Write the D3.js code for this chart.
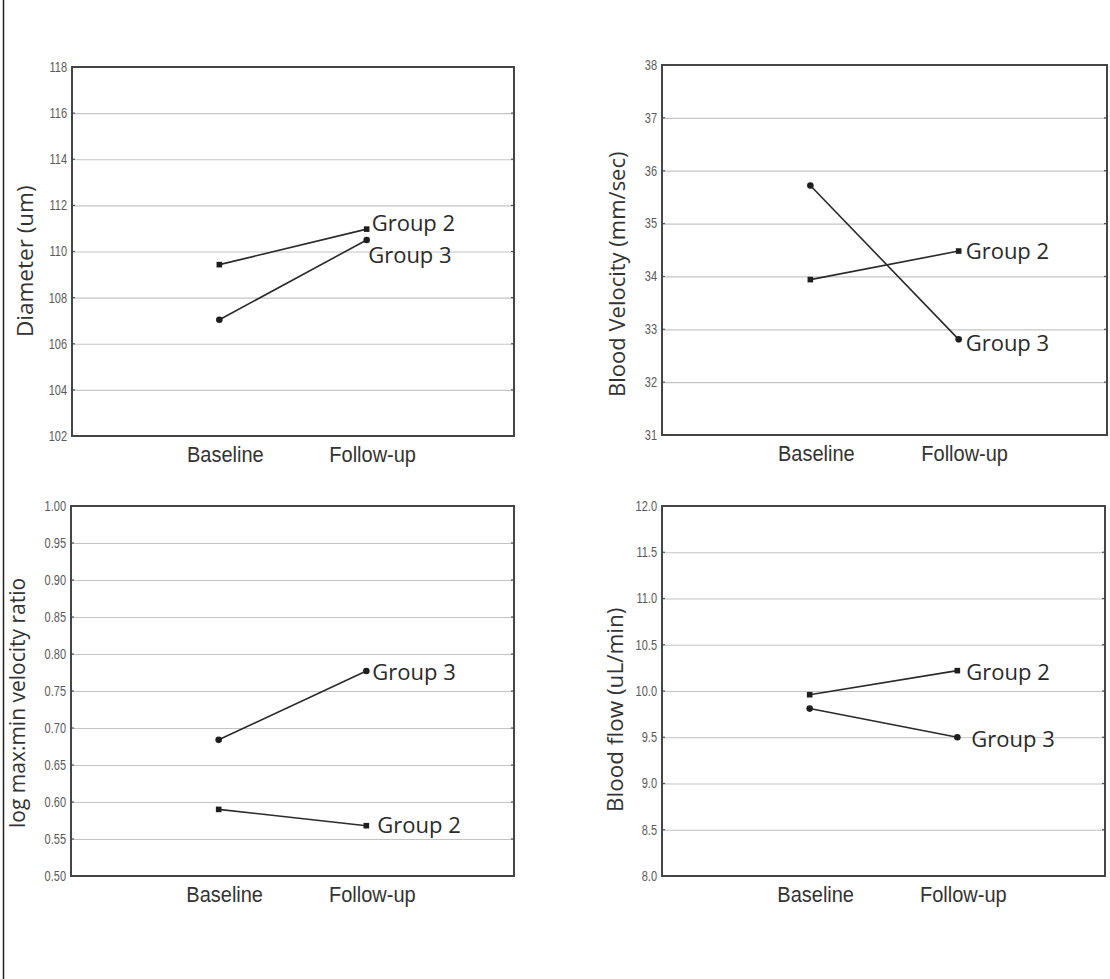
<!DOCTYPE html>
<html>
<head>
<meta charset="utf-8">
<script src="https://cdn.jsdelivr.net/npm/d3@7"></script>
<style>
  html, body { margin: 0; padding: 0; background: #fff; }
  svg { display: block; }
</style>
</head>
<body>
<svg id="chart" width="1110" height="979"></svg>
<script>
// ---------------- DATA ----------------
const categories = ["Baseline", "Follow-up"];
const groups = ["Group 2", "Group 3"];

const diameterG2 = [109.43, 110.97];
const diameterG3 = [107.04, 110.50];
const diameterTicks = [102, 104, 106, 108, 110, 112, 114, 116, 118];

const velocityG2 = [33.94, 34.48];
const velocityG3 = [35.72, 32.81];
const velocityTicks = [31, 32, 33, 34, 35, 36, 37, 38];

const ratioG2 = [0.590, 0.568];
const ratioG3 = [0.684, 0.777];
const ratioTicks = [0.50, 0.55, 0.60, 0.65, 0.70, 0.75, 0.80, 0.85, 0.90, 0.95, 1.00];

const flowG2 = [9.96, 10.22];
const flowG3 = [9.81, 9.50];
const flowTicks = [8.0, 8.5, 9.0, 9.5, 10.0, 10.5, 11.0, 11.5, 12.0];

const yTitles = ["Diameter (um)", "Blood Velocity (mm/sec)", "log max:min velocity ratio", "Blood flow (uL/min)"];

// ---------------- LAYOUT (positions / styles only) ----------------
const panels = [
  { series: [diameterG2, diameterG3], ticks: diameterTicks, fmt: d3.format("d"), title: yTitles[0],
    box: {x: 72, y: 67, w: 442, h: 369}, titlePos: {x: 33, y: 337, fs: 22.5},
    labelOff: [[5, -6], [1.5, 15]] },
  { series: [velocityG2, velocityG3], ticks: velocityTicks, fmt: d3.format("d"), title: yTitles[1],
    box: {x: 662, y: 65, w: 445, h: 370}, titlePos: {x: 625, y: 397, fs: 22},
    labelOff: [[7, 0], [7, 4]] },
  { series: [ratioG2, ratioG3], ticks: ratioTicks, fmt: d3.format(".2f"), title: yTitles[2],
    box: {x: 71, y: 506, w: 443, h: 370}, titlePos: {x: 25, y: 828, fs: 21},
    labelOff: [[11, -1], [6, 1]] },
  { series: [flowG2, flowG3], ticks: flowTicks, fmt: d3.format(".1f"), title: yTitles[3],
    box: {x: 662, y: 506, w: 443, h: 370}, titlePos: {x: 623, y: 812, fs: 22.5},
    labelOff: [[9, 1], [14, 2]] }
];

const svg = d3.select("#chart");

// left vertical rule
svg.append("line")
  .attr("x1", 3.5).attr("x2", 3.5).attr("y1", 0).attr("y2", 979)
  .attr("stroke", "#222").attr("stroke-width", 1.5);

panels.forEach(p => {
  const b = p.box;
  const g = svg.append("g").attr("transform", `translate(${b.x},${b.y})`);

  const x = d3.scalePoint().domain(categories).range([0, b.w]).padding(1);
  const y = d3.scaleLinear().domain(d3.extent(p.ticks)).range([b.h, 0]);

  // gridlines + tick labels via d3 axis
  const ax = g.append("g")
    .call(d3.axisLeft(y).tickValues(p.ticks).tickFormat(p.fmt).tickSize(-b.w).tickPadding(5));
  ax.select(".domain").remove();
  ax.selectAll(".tick line").attr("stroke", "#c4c4c4").attr("stroke-width", 1.2);
  ax.selectAll(".tick text")
    .attr("font-family", "'Liberation Sans', Arial, sans-serif")
    .attr("font-size", 11)
    .attr("fill", "#5a5a5a")
    .attr("transform", "scale(1,1.25)");

  // small tick stubs on both sides
  const stubs = g.append("g");
  p.ticks.forEach(t => {
    stubs.append("line").attr("x1", 0).attr("x2", 3).attr("y1", y(t)).attr("y2", y(t))
      .attr("stroke", "#555").attr("stroke-width", 1.2);
    stubs.append("line").attr("x1", b.w - 3).attr("x2", b.w).attr("y1", y(t)).attr("y2", y(t))
      .attr("stroke", "#555").attr("stroke-width", 1.2);
  });

  // frame
  g.append("rect").attr("x", 0).attr("y", 0).attr("width", b.w).attr("height", b.h)
    .attr("fill", "none").attr("stroke", "#454545").attr("stroke-width", 2);

  // x category labels
  const xl = g.append("g").attr("transform", `translate(0,${b.h + 26})`);
  categories.forEach(c => {
    const cx = x(c) + 6;
    xl.append("text")
      .attr("x", cx).attr("y", 0)
      .attr("text-anchor", "middle")
      .attr("font-family", "'Liberation Sans', Arial, sans-serif")
      .attr("font-size", 20)
      .attr("fill", "#333")
      .attr("transform", `translate(${cx},0) scale(1,1.12) translate(${-cx},0)`)
      .text(c);
  });

  // y title
  svg.append("text")
    .attr("transform", `translate(${p.titlePos.x},${p.titlePos.y}) rotate(-90)`)
    .attr("text-anchor", "start")
    .attr("font-family", "'Open Sans', 'Noto Sans', sans-serif")
    .attr("font-size", p.titlePos.fs)
    .attr("fill", "#333")
    .text(p.title);

  // series
  const line = d3.line().x((d, i) => x(categories[i])).y(d => y(d));
  p.series.forEach((vals, si) => {
    g.append("path").datum(vals)
      .attr("d", line)
      .attr("fill", "none")
      .attr("stroke", "#2a2a2a")
      .attr("stroke-width", 1.6);

    vals.forEach((v, i) => {
      const cx = x(categories[i]), cy = y(v);
      if (si === 0) {
        g.append("rect").attr("x", cx - 2.8).attr("y", cy - 2.8).attr("width", 5.6).attr("height", 5.6)
          .attr("fill", "#1e1e1e");
      } else {
        g.append("circle").attr("cx", cx).attr("cy", cy).attr("r", 3.3).attr("fill", "#1e1e1e");
      }
    });

    const last = vals.length - 1;
    const off = p.labelOff[si];
    g.append("text")
      .attr("x", x(categories[last]) + off[0])
      .attr("y", y(vals[last]) + off[1] + 8)
      .attr("font-family", "'Open Sans', 'Noto Sans', sans-serif")
      .attr("font-size", 22)
      .attr("fill", "#2a2a2a")
      .text(groups[si]);
  });
});
</script>
</body>
</html>
